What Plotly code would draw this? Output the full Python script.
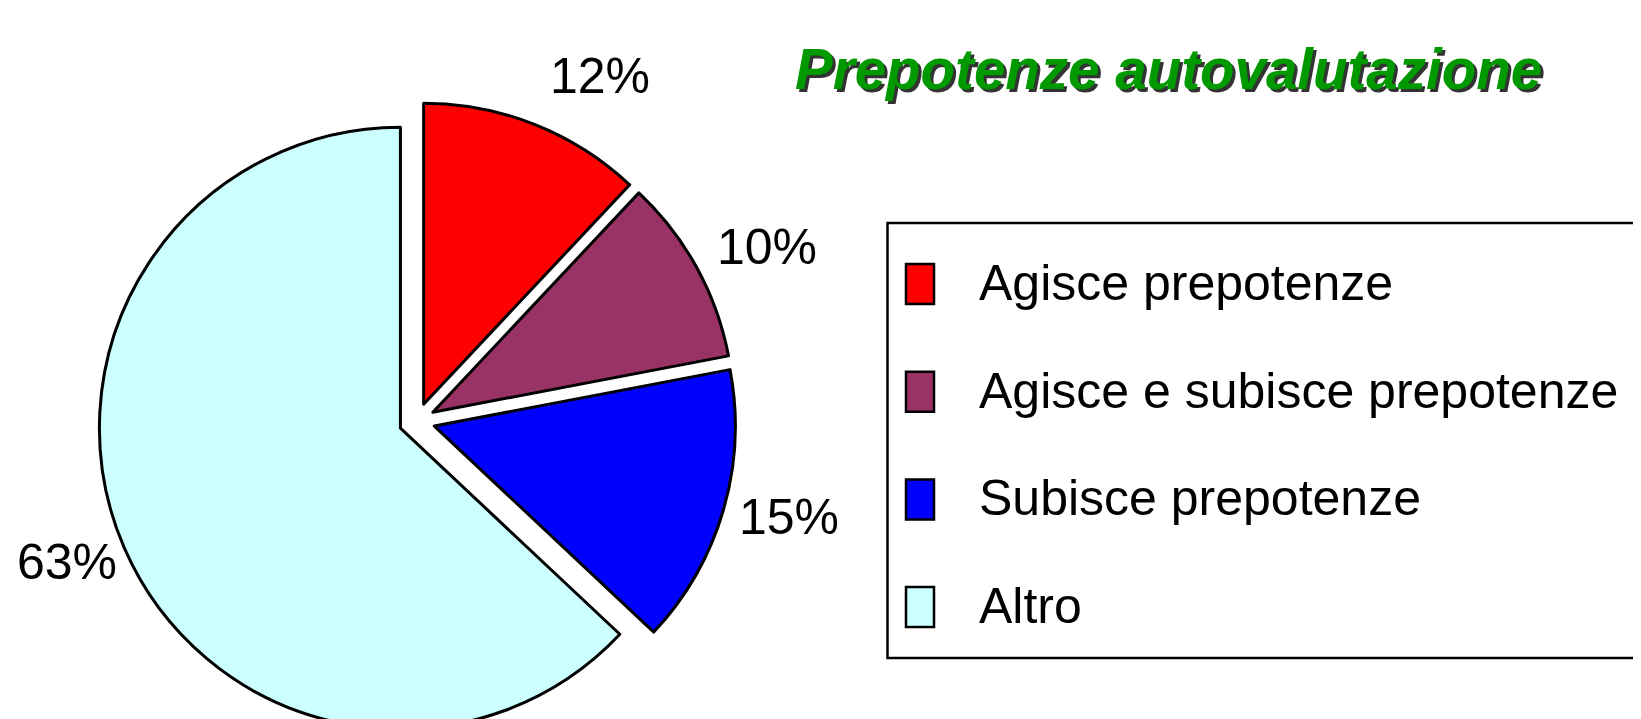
import plotly.graph_objects as go

W, H = 1641, 740   # page is taller than the window; the bottom gets cut like the original
OFF = 8            # default body margin of the written page

# data
categories = ["Agisce prepotenze", "Agisce e subisce prepotenze", "Subisce prepotenze", "Altro"]
percent = [12, 10, 15, 63]
colors = ["#FF0000", "#993366", "#0000FF", "#CCFFFF"]
title_text = "Prepotenze autovalutazione"

# where the % labels sit (screen pixels from top-left)
label_xy = [(600, 76), (767, 247), (789, 517), (67, 562)]


def px(x):
    return (x - OFF) / W


def py(y):
    return 1 - (y - OFF) / H


# pie geometry in screen pixels: centre, radius, pull
cx, cy, r, pull = 417, 421, 301, 0.06
half = r * (1 + pull)

fig = go.Figure()

fig.add_trace(go.Pie(
    labels=categories,
    values=percent,
    sort=False,
    direction="clockwise",
    rotation=0,
    pull=[pull] * len(percent),
    textinfo="none",
    hoverinfo="label+percent",
    marker=dict(colors=colors, line=dict(color="black", width=3)),
    domain=dict(x=[px(cx - half), px(cx + half)], y=[py(cy + half), py(cy - half)]),
    showlegend=False,
))

annotations = []
shapes = []

# percentage labels
for p, (lx, ly) in zip(percent, label_xy):
    annotations.append(dict(
        x=px(lx), y=py(ly), xref="paper", yref="paper",
        text=f"{p}%", showarrow=False, xanchor="center", yanchor="middle",
        font=dict(family="Liberation Sans, Arial", size=50, color="black"),
    ))

# title, green with a dark drop shadow
annotations.append(dict(
    x=px(1168), y=py(69), xref="paper", yref="paper",
    text=title_text, showarrow=False,
    xanchor="center", yanchor="middle",
    font=dict(family="Liberation Sans, Arial", size=56.5, color="#009900",
              weight="bold", style="italic", shadow="3px 3px 0px #333333"),
))

# legend box
shapes.append(dict(
    type="rect", xref="paper", yref="paper",
    x0=px(887.5), x1=px(1700), y0=py(658), y1=py(223),
    line=dict(color="black", width=2.5), fillcolor="rgba(0,0,0,0)",
))

row0, step = 284, 107.7
for i, (name, col) in enumerate(zip(categories, colors)):
    ry = row0 + i * step
    shapes.append(dict(
        type="rect", xref="paper", yref="paper",
        x0=px(906), x1=px(934), y0=py(ry + 20), y1=py(ry - 20),
        line=dict(color="black", width=2.5), fillcolor=col,
    ))
    annotations.append(dict(
        x=px(977), y=py(ry - 1), xref="paper", yref="paper",
        text=name, showarrow=False, xanchor="left", yanchor="middle",
        font=dict(family="Liberation Sans, Arial", size=50, color="black"),
    ))

fig.update_layout(
    width=W, height=H,
    margin=dict(l=0, r=0, t=0, b=0),
    paper_bgcolor="white",
    plot_bgcolor="white",
    annotations=annotations,
    shapes=shapes,
)

fig.write_html("out.html")
